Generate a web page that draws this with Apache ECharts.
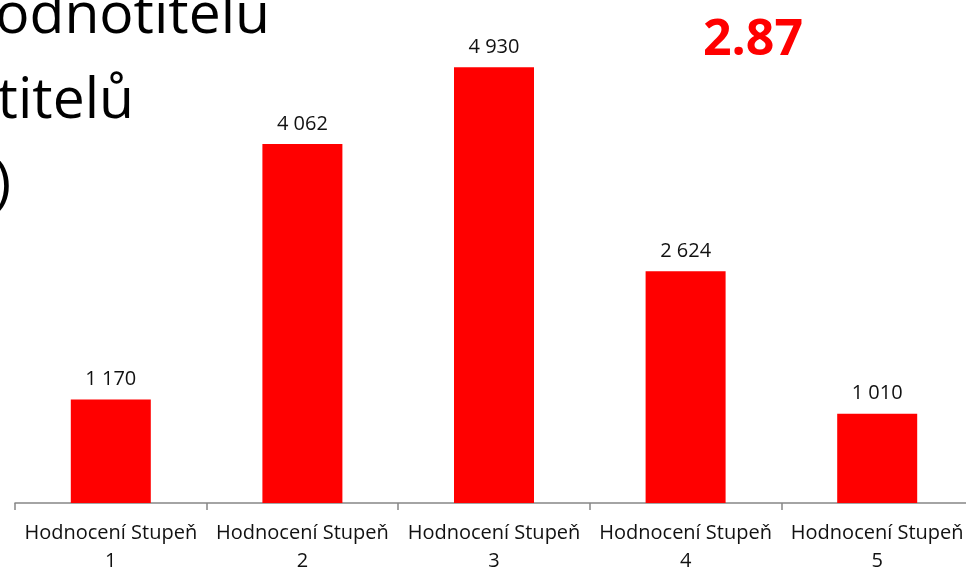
<!DOCTYPE html>
<html>
<head>
<meta charset="utf-8">
<script src="https://cdn.jsdelivr.net/npm/echarts@6/dist/echarts.min.js"></script>
<style>
  html, body { margin: 0; padding: 0; background: #fff; }
  #chart { width: 966px; height: 569px; }
</style>
</head>
<body>
<div id="chart"></div>
<script>
// data
var categories = ['Hodnocení Stupeň\n1', 'Hodnocení Stupeň\n2', 'Hodnocení Stupeň\n3', 'Hodnocení Stupeň\n4', 'Hodnocení Stupeň\n5'];
var counts = [1170, 4062, 4930, 2624, 1010];
var average = '2.87';
// slide title, only the right-hand end is visible
var titleLines = ['odnotitelu', 'titelů', ')'];

function spaced(n) {
    return String(n).replace(/\B(?=(\d{3})+(?!\d))/g, ' ');
}

var _chart = echarts.init(document.getElementById('chart'));
var option = {
    animation: false,
    grid: {
        left: 15,
        right: -7,
        top: 17,
        bottom: 66,
        outerBoundsMode: 'none',
        containLabel: false
    },
    xAxis: {
        type: 'category',
        data: categories,
        axisLine: {
            lineStyle: { color: '#868686', width: 1.5 }
        },
        axisTick: {
            show: true,
            length: 7,
            lineStyle: { color: '#868686', width: 1.5 }
        },
        axisLabel: {
            interval: 0,
            margin: 16,
            color: '#111',
            fontFamily: 'Open Sans',
            fontSize: 20,
            lineHeight: 28
        }
    },
    yAxis: {
        type: 'value',
        min: 0,
        max: 5500,
        show: false,
        splitLine: { show: false }
    },
    series: [
        {
            type: 'bar',
            data: counts,
            barWidth: 80,
            itemStyle: { color: '#ff0000' },
            label: {
                show: true,
                position: 'top',
                distance: 10,
                color: '#111',
                fontFamily: 'Open Sans',
                fontSize: 20,
                formatter: function (p) { return spaced(p.value); }
            }
        }
    ],
    graphic: [
        {
            type: 'text', right: 696, top: -12,
            style: { text: titleLines[0], fontFamily: 'Open Sans', fontSize: 57, fill: '#000' }
        },
        {
            type: 'text', right: 832, top: 73,
            style: { text: titleLines[1], fontFamily: 'Open Sans', fontSize: 57, fill: '#000' }
        },
        {
            type: 'text', right: 955, top: 157,
            style: { text: titleLines[2], fontFamily: 'Open Sans', fontSize: 57, fill: '#000' }
        },
        {
            type: 'text', left: 703, top: 16,
            style: { text: average, fontFamily: 'Open Sans', fontWeight: 'bold', fontSize: 50, fill: '#ff0000' }
        }
    ]
};
_chart.setOption(option);
</script>
</body>
</html>
